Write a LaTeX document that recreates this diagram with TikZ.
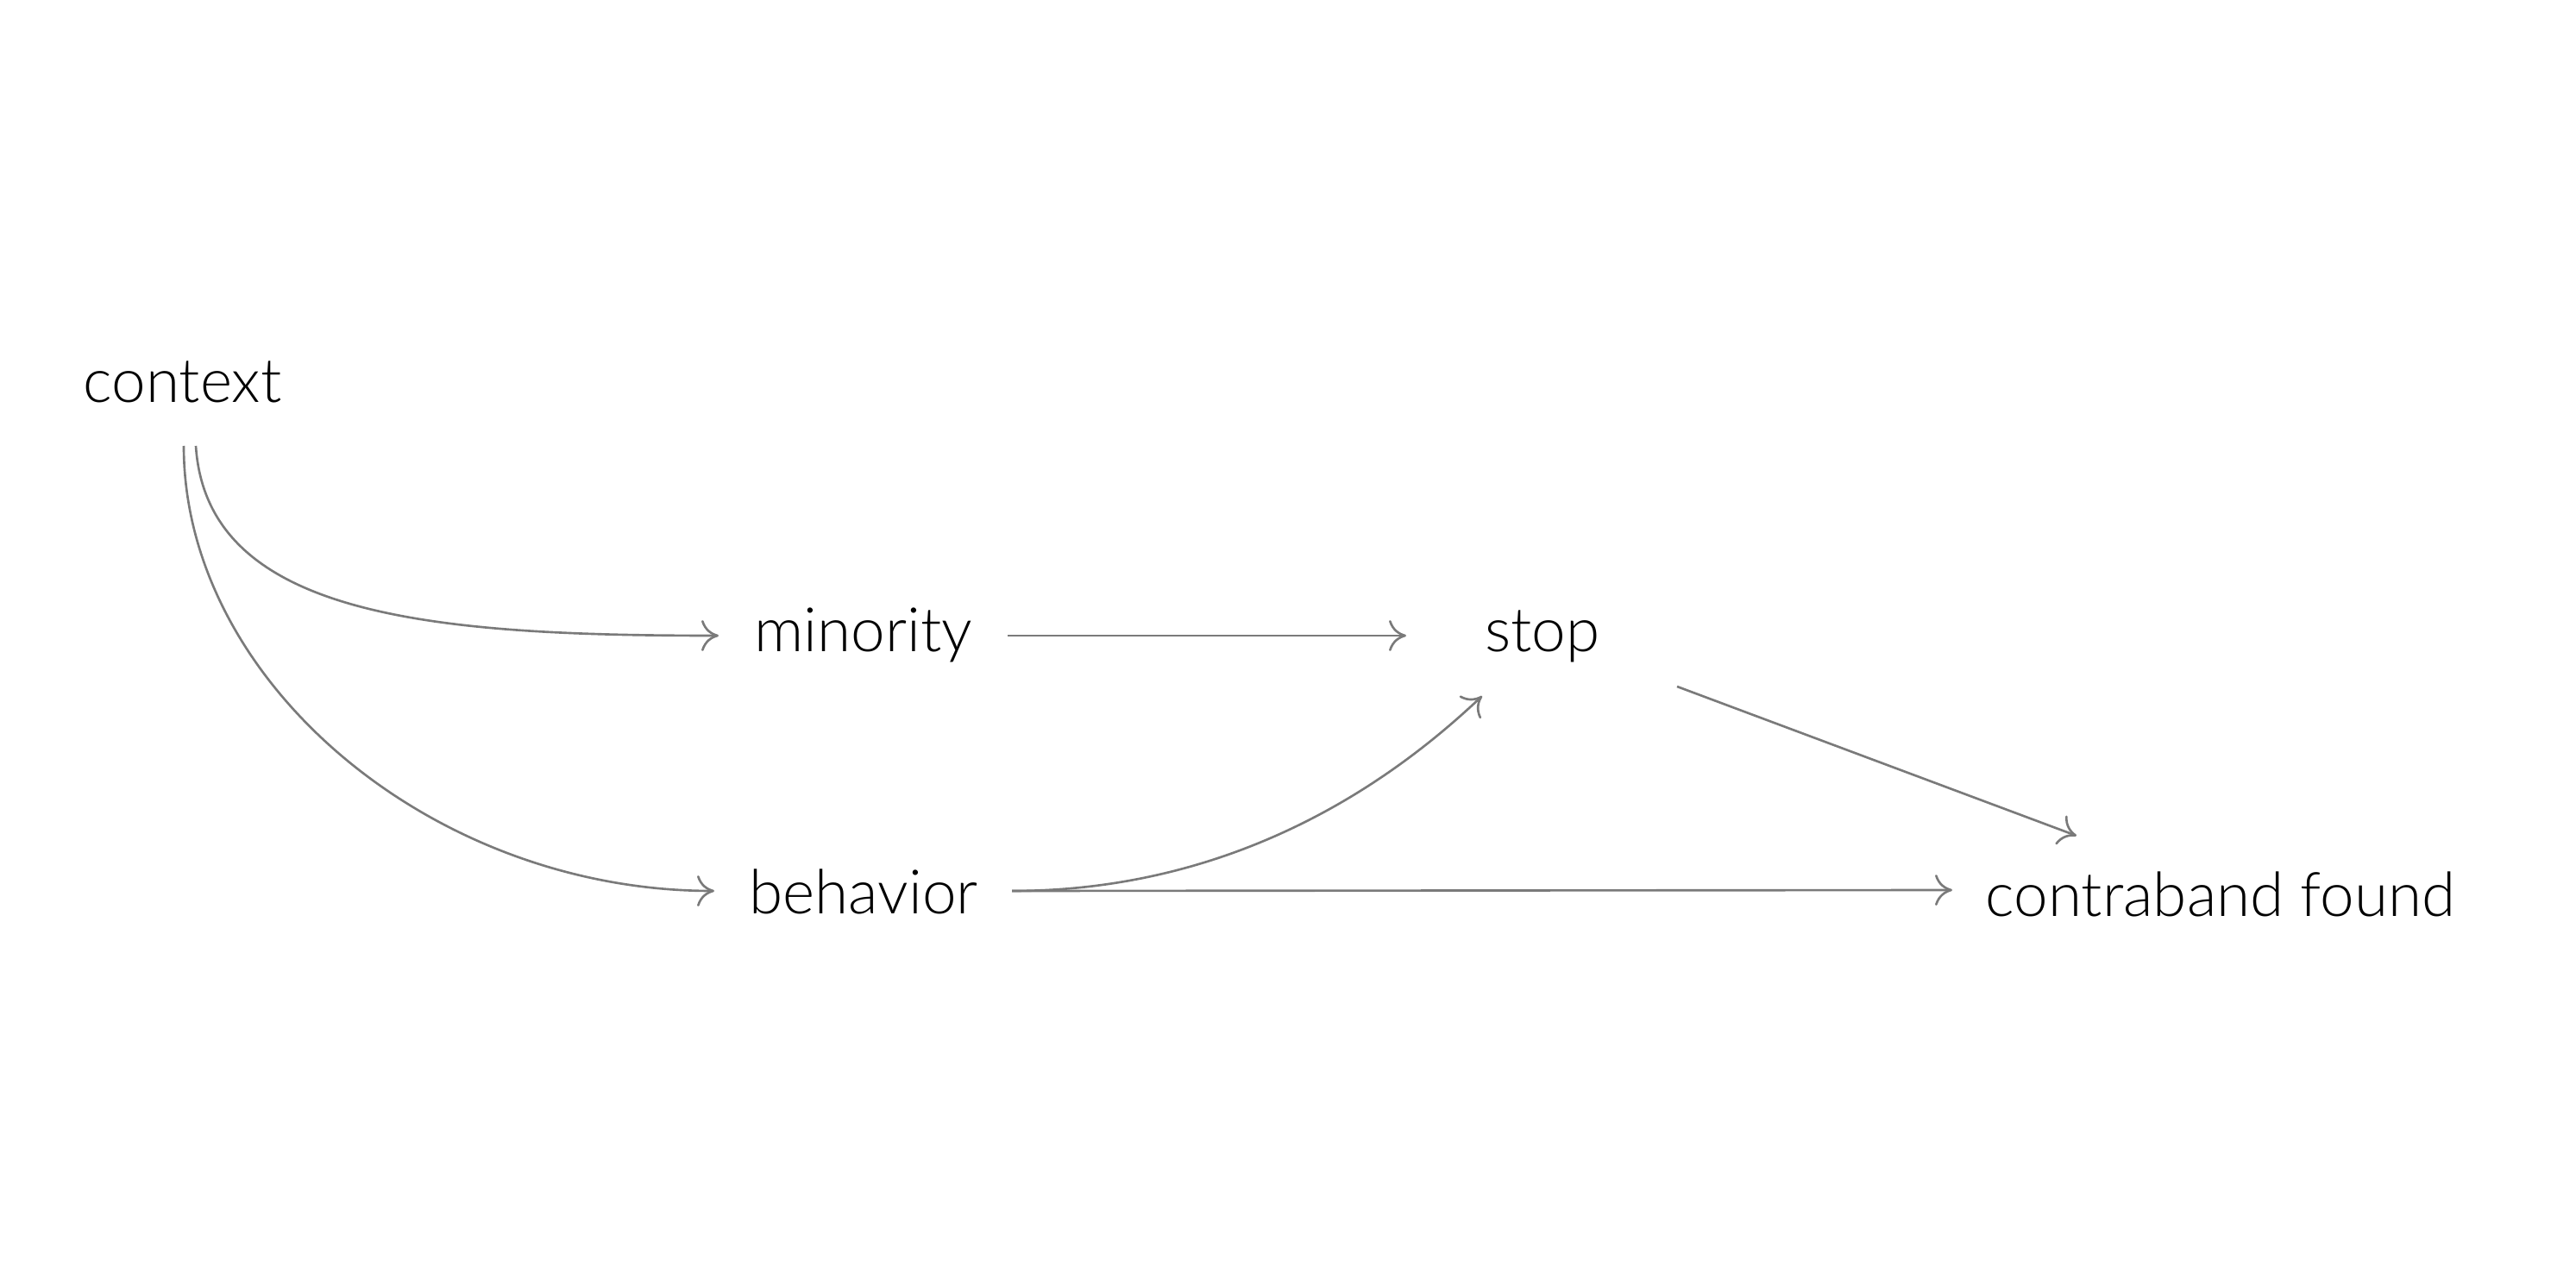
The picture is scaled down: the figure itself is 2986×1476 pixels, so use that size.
\documentclass[tikz,border=0pt]{standalone}
\usepackage{fontspec}
\setmainfont{Lato}[UprightFont={* Light}]
\usetikzlibrary{arrows.meta,calc}
\definecolor{edgegray}{HTML}{7A7A7A}
\begin{document}
\begin{tikzpicture}[x=0.01cm,y=-0.01cm,
  var/.style={anchor=base,inner sep=0pt,text=black,font=\fontsize{20.2pt}{24pt}\selectfont},
  link/.style={draw=edgegray,line width=0.75pt,-{To[length=2mm,width=3.6mm]}}]
  \useasboundingbox (0,0) rectangle (2986,1476);

  % variables
  \node[var] (ctx) at (211.5,466) {context};
  \node[var] (min) at (1001,755) {minority};
  \node[var] (stp) at (1788,755) {stop};
  \node[var] (beh) at (1001,1059) {behavior};
  \node[var] (cbf) at (2574,1062) {contraband found};

  % causal paths
  \draw[link] ($(ctx.base)+(15.5,51)$) .. controls (240,715) and (500,737) .. ($(min.base)+(-168,-18)$);
  \draw[link] ($(ctx.base)+(1.5,51)$) .. controls (213,790) and (500,1033) .. ($(beh.base)+(-173,-26)$);
  \draw[link] ($(min.base)+(167,-18)$) -- ($(stp.base)+(-158,-18)$);
  \draw[link] ($(beh.base)+(172,-26)$) .. controls (1450,1033) and (1630,890) .. ($(stp.base)+(-70,52)$);
  \draw[link] ($(beh.base)+(172,-26)$) -- ($(cbf.base)+(-311,-30)$);
  \draw[link] ($(stp.base)+(156,41)$) -- ($(cbf.base)+(-167,-93)$);
\end{tikzpicture}
\end{document}
